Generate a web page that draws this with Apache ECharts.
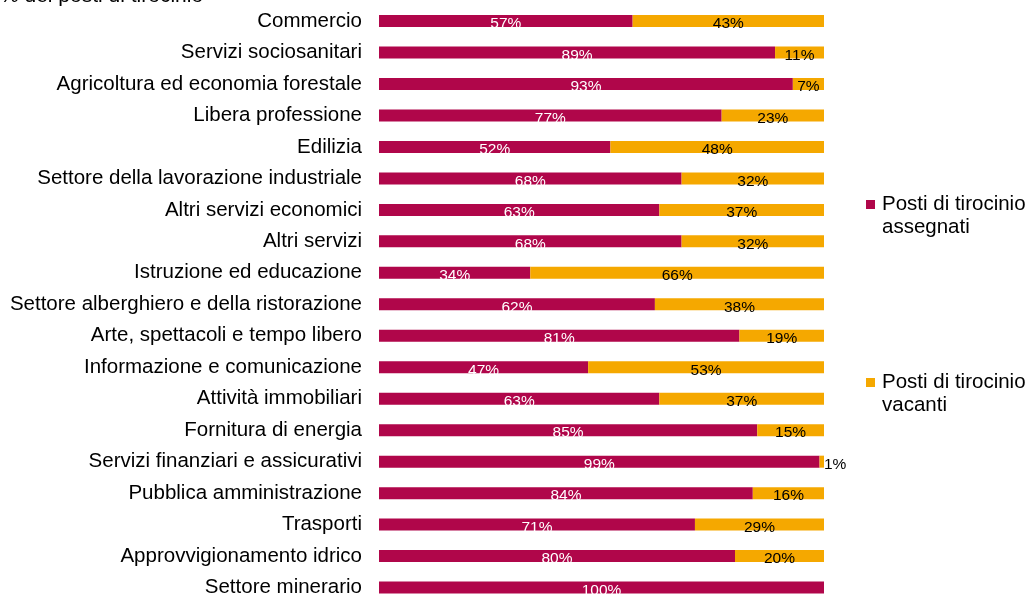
<!DOCTYPE html>
<html>
<head>
    <meta charset="utf-8">
    <title>Posti di tirocinio</title>
    <script src="https://cdn.jsdelivr.net/npm/echarts@6/dist/echarts.min.js"></script>
</head>
<body style="margin:0">
<div id="main" style="width: 1029px;height:598px;"></div>
<script type="text/javascript">
    var categories = ['Commercio', 'Servizi sociosanitari', 'Agricoltura ed economia forestale',
        'Libera professione', 'Edilizia', 'Settore della lavorazione industriale',
        'Altri servizi economici', 'Altri servizi', 'Istruzione ed educazione',
        'Settore alberghiero e della ristorazione', 'Arte, spettacoli e tempo libero',
        'Informazione e comunicazione', 'Attività immobiliari', 'Fornitura di energia',
        'Servizi finanziari e assicurativi', 'Pubblica amministrazione', 'Trasporti',
        'Approvvigionamento idrico', 'Settore minerario'];
    var assegnati = [57, 89, 93, 77, 52, 68, 63, 68, 34, 62, 81, 47, 63, 85, 99, 84, 71, 80, 100];
    var vacanti = [43, 11, 7, 23, 48, 32, 37, 32, 66, 38, 19, 53, 37, 15, 1, 16, 29, 20, 0];

    var font = 'Liberation Sans, Arial, sans-serif';

    // tiny segments get their label outside the bar
    function withLabels(arr) {
        return arr.map(function (v) {
            if (v > 0 && v < 3) {
                return {value: v, label: {position: 'right', offset: [-5, 3]}};
            }
            return v;
        });
    }

    var myChart = echarts.init(document.getElementById('main'));
    var option = {
        animation: false,
        title: {
            text: '% dei posti di tirocinio',
            left: 0,
            top: -14,
            padding: 0,
            textStyle: {fontFamily: font, fontSize: 21, fontWeight: 'normal', color: '#000'}
        },
        legend: {
            orient: 'vertical',
            left: 866,
            top: 170,
            padding: 0,
            itemWidth: 9,
            itemHeight: 9,
            itemGap: 109,
            icon: 'rect',
            data: ['Posti di tirocinio\nassegnati', 'Posti di tirocinio\nvacanti'],
            // blank first line so the marker sits beside the first text line
            formatter: function (name) { return ' \n' + name; },
            textStyle: {fontFamily: font, fontSize: 20.5, color: '#000', lineHeight: 23, padding: [0, 0, 0, 2]}
        },
        grid: {left: 379, right: 205, top: 5.3, height: 598, outerBoundsMode: 'none'},
        xAxis: {type: 'value', min: 0, max: 100, show: false},
        yAxis: {
            type: 'category',
            inverse: true,
            data: categories,
            axisLine: {show: false},
            axisTick: {show: false},
            axisLabel: {margin: 17, fontFamily: font, fontSize: 20.5, color: '#000'}
        },
        series: [
            {
                name: 'Posti di tirocinio\nassegnati',
                type: 'bar',
                stack: 'tot',
                barWidth: 12,
                itemStyle: {color: '#B0064A'},
                label: {
                    show: true, position: 'inside', offset: [0, 3],
                    fontFamily: font, fontSize: 15.5, color: '#fff',
                    formatter: function (p) { return p.value > 0 ? p.value + '%' : ''; }
                },
                data: withLabels(assegnati)
            },
            {
                name: 'Posti di tirocinio\nvacanti',
                type: 'bar',
                stack: 'tot',
                barWidth: 12,
                itemStyle: {color: '#F5A800'},
                label: {
                    show: true, position: 'inside', offset: [0, 3],
                    fontFamily: font, fontSize: 15.5, color: '#000',
                    formatter: function (p) { return p.value > 0 ? p.value + '%' : ''; }
                },
                data: withLabels(vacanti)
            }
        ]
    };
    myChart.setOption(option);
</script>
</body>
</html>
